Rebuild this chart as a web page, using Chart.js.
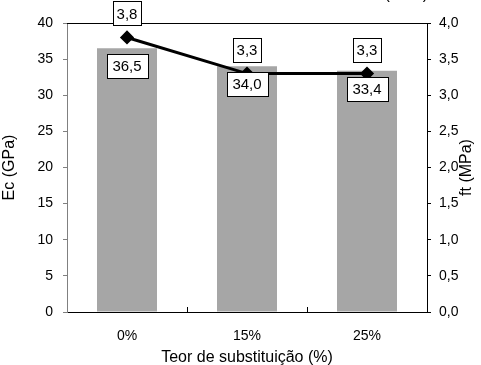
<!DOCTYPE html>
<html>
<head>
<meta charset="utf-8">
<script src="https://cdn.jsdelivr.net/npm/chart.js@4.4.1/dist/chart.umd.min.js"></script>
<style>
  html, body { margin: 0; padding: 0; background: #fff; }
  #wrap { width: 481px; height: 365px; position: relative; }
</style>
</head>
<body>
<div id="wrap"><canvas id="c" width="481" height="365"></canvas></div>
<script>
// Substitution levels and measured properties
const categories = ['0%', '15%', '25%'];
const ecValues = [36.5, 34.0, 33.4];   // modulus of elasticity, GPa
const ftValues = [3.8, 3.3, 3.3];      // tensile strength, MPa
const ecTicks = [0, 5, 10, 15, 20, 25, 30, 35, 40];
const ftTicks = [0, 0.5, 1, 1.5, 2, 2.5, 3, 3.5, 4];

const FONT = 'Liberation Sans, Arial, sans-serif';
const fmt = (v, d) => v.toFixed(d).replace('.', ',');

// Frame, inward category ticks, right title and value boxes
const decor = {
  id: 'decor',
  afterDatasetsDraw(chart) {
    const { ctx, chartArea: a, scales } = chart;
    ctx.save();
    // top border
    ctx.strokeStyle = '#000';
    ctx.lineWidth = 1;
    ctx.beginPath();
    ctx.moveTo(a.left, a.top + 0.5);
    ctx.lineTo(a.right, a.top + 0.5);
    ctx.stroke();
    // category separators on the bottom axis, pointing up
    const x = scales.x;
    for (let i = 0; i < categories.length - 1; i++) {
      const px = Math.round((x.getPixelForValue(i) + x.getPixelForValue(i + 1)) / 2) + 0.5;
      ctx.beginPath();
      ctx.moveTo(px, a.bottom);
      ctx.lineTo(px, a.bottom - 5);
      ctx.stroke();
    }

    ctx.font = '15px ' + FONT;
    ctx.textAlign = 'center';
    ctx.textBaseline = 'middle';
    const box = (txt, cx, cy, padX) => {
      const w = Math.round(ctx.measureText(txt).width + padX * 2);
      const h = 24;
      const lx = Math.round(cx - w / 2) + 0.5, ty = Math.round(cy - h / 2) + 0.5;
      ctx.fillStyle = '#fff';
      ctx.fillRect(lx, ty, w, h);
      ctx.strokeStyle = '#000';
      ctx.strokeRect(lx, ty, w, h);
      ctx.fillStyle = '#000';
      ctx.fillText(txt, cx, cy + 1);
    };
    // bar values inside the bars
    const barMeta = chart.getDatasetMeta(0);
    barMeta.data.forEach((el, i) => box(fmt(ecValues[i], 1), el.x, el.y + 18, 6));
    // line values above the points
    const lineMeta = chart.getDatasetMeta(1);
    lineMeta.data.forEach((el, i) => box(fmt(ftValues[i], 1), el.x, el.y - 24, 3.5));

    // right axis title, reading bottom to top
    ctx.save();
    ctx.translate(467, (a.top + a.bottom) / 2);
    ctx.rotate(-Math.PI / 2);
    ctx.font = '16px ' + FONT;
    ctx.fillText('ft (MPa)', 0, 0);
    ctx.restore();

    // chart title, running off the top edge
    ctx.font = '16px ' + FONT;
    ctx.textAlign = 'right';
    ctx.textBaseline = 'alphabetic';
    ctx.fillText('(MPa)', 428, -1);
    ctx.restore();
  }
};

new Chart(document.getElementById('c'), {
  data: {
    labels: categories,
    datasets: [
      {
        type: 'bar',
        label: 'Ec (GPa)',
        data: ecValues,
        yAxisID: 'y',
        backgroundColor: '#a6a6a6',
        categoryPercentage: 1,
        barPercentage: 0.5,
        order: 2
      },
      {
        type: 'line',
        label: 'ft (MPa)',
        data: ftValues,
        yAxisID: 'y1',
        borderColor: '#000',
        backgroundColor: '#000',
        borderWidth: 3,
        pointStyle: 'rectRot',
        pointRadius: 5,
        pointHoverRadius: 5,
        tension: 0,
        order: 1
      }
    ]
  },
  options: {
    responsive: false,
    animation: false,
    events: [],
    layout: { padding: { top: 23, left: 0, right: 0, bottom: 0 } },
    plugins: { legend: { display: false }, tooltip: { enabled: false } },
    scales: {
      x: {
        offset: true,
        grid: { display: false },
        border: { color: '#000', width: 1 },
        ticks: { color: '#000', font: { family: FONT, size: 14 }, padding: 8 },
        title: { display: true, text: 'Teor de substituição (%)', color: '#000', font: { family: FONT, size: 16 }, padding: { top: 4, bottom: -2 } },
        afterFit(s) { s.height = 53; }
      },
      y: {
        position: 'left',
        min: 0, max: 40,
        afterBuildTicks(s) { s.ticks = ecTicks.map(v => ({ value: v })); },
        grid: { drawOnChartArea: false, tickLength: 4, color: '#808080' },
        border: { color: '#808080', width: 1 },
        ticks: { color: '#000', font: { family: FONT, size: 14 }, padding: 10 },
        title: { display: true, text: 'Ec (GPa)', color: '#000', font: { family: FONT, size: 16 }, padding: { top: 0, bottom: 0 } },
        afterFit(s) { s.width = 67; }
      },
      y1: {
        position: 'right',
        min: 0, max: 4,
        afterBuildTicks(s) { s.ticks = ftTicks.map(v => ({ value: v })); },
        grid: { drawOnChartArea: false, tickLength: 4, color: '#000' },
        border: { color: '#000', width: 1 },
        ticks: { color: '#000', font: { family: FONT, size: 14 }, padding: 8,
                 callback: v => fmt(v, 1) },
        afterFit(s) { s.width = 54; }
      }
    }
  },
  plugins: [decor]
});
</script>
</body>
</html>
